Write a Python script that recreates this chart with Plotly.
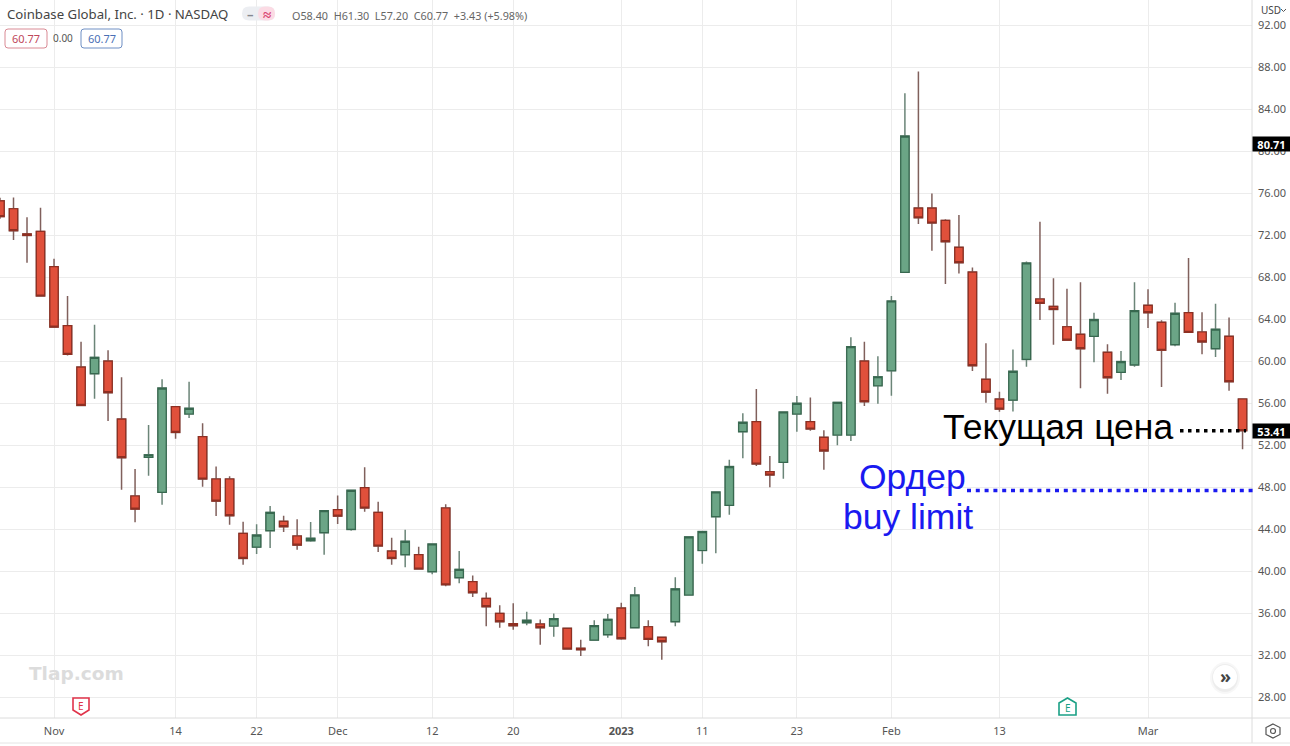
import numpy as np
import plotly.graph_objects as go

# Daily COIN candles, one row per trading session
opens = [75.3, 74.55, 72.15, 72.39, 69.03, 63.41, 59.47, 58.84, 60.04, 54.52, 47.19, 50.87, 47.54, 55.7, 55.0, 52.84,
         48.81, 48.81, 43.63, 42.33, 43.89, 44.78, 43.38, 42.94, 43.7, 45.89, 44.01, 47.98, 45.63, 41.95, 41.6, 41.6,
         39.98, 46.05, 39.41, 39.03, 37.44, 36.01, 35.03, 35.13, 35.0, 34.81, 34.59, 32.68, 33.47, 33.98, 36.52, 34.65,
         34.74, 33.73, 35.22, 37.76, 42.0, 45.22, 46.3, 53.32, 54.27, 49.51, 50.4, 55.0, 54.27, 52.78, 53.0, 53.0,
         60.04, 57.69, 59.12, 68.49, 74.61, 74.61, 73.44, 70.87, 68.52, 58.3, 56.42, 56.33, 60.2, 65.95, 65.25, 63.31,
         62.59, 62.4, 60.87, 58.97, 59.67, 65.35, 63.73, 61.6, 64.65, 62.81, 61.22, 62.4, 56.43]
highs = [75.6, 75.63, 73.73, 74.65, 69.79, 66.24, 61.89, 63.5, 61.06, 58.49, 49.76, 53.95, 58.3, 55.76, 58.08, 54.11,
         50.01, 49.06, 44.74, 44.49, 46.24, 45.32, 44.97, 44.71, 45.85, 47.25, 47.76, 49.92, 46.65, 43.22, 43.98, 42.36,
         42.68, 46.4, 41.95, 39.63, 38.01, 36.78, 36.97, 36.17, 35.44, 36.01, 34.59, 33.5, 35.35, 35.95, 37.03, 38.52,
         35.35, 33.82, 39.45, 43.29, 43.86, 47.64, 50.65, 55.07, 57.38, 51.0, 55.19, 56.72, 56.56, 53.45, 56.1, 62.3,
         61.88, 60.49, 66.23, 85.54, 87.63, 76.01, 73.54, 73.95, 68.96, 61.73, 57.12, 61.15, 69.53, 73.31, 67.92, 66.93,
         67.54, 64.65, 61.64, 61.0, 67.54, 66.87, 63.92, 65.6, 69.86, 64.68, 65.51, 64.18, 56.43]
lows = [73.6, 71.57, 69.41, 66.2, 63.25, 60.58, 55.82, 56.46, 54.33, 47.79, 44.68, 49.12, 46.36, 52.65, 54.62, 48.08,
        45.28, 44.46, 40.65, 41.67, 42.24, 43.76, 42.08, 42.84, 41.6, 44.52, 43.89, 45.7, 41.86, 40.65, 40.4, 40.24,
        39.73, 38.59, 38.87, 37.57, 34.78, 34.65, 34.46, 34.87, 33.03, 33.79, 32.55, 31.95, 33.47, 33.7, 33.5, 34.65,
        32.87, 31.6, 34.78, 37.76, 40.75, 41.73, 45.41, 50.78, 50.05, 48.02, 48.84, 53.32, 53.41, 49.7, 52.02, 52.43,
        55.76, 55.98, 56.74, 68.45, 73.09, 70.55, 67.38, 68.39, 59.09, 56.08, 55.22, 55.25, 59.5, 63.95, 61.6, 62.0,
        57.45, 59.92, 56.94, 58.24, 59.51, 63.19, 57.57, 61.45, 62.72, 60.68, 60.43, 57.22, 51.64]
closes = [73.8, 72.46, 72.0, 66.24, 63.28, 60.68, 55.82, 60.39, 57.03, 50.84, 45.95, 51.12, 57.47, 53.25, 55.54, 48.81,
          46.71, 45.32, 41.25, 43.47, 45.63, 44.27, 42.52, 43.16, 45.79, 45.28, 47.73, 46.05, 42.43, 41.25, 42.87, 40.24,
          42.62, 38.74, 40.2, 37.98, 36.65, 35.22, 34.84, 35.35, 34.65, 35.51, 32.62, 32.55, 34.84, 35.44, 33.6, 37.76,
          33.54, 33.32, 38.34, 43.29, 43.8, 47.57, 49.99, 54.21, 50.24, 49.19, 55.19, 56.02, 53.57, 51.48, 56.1, 61.41,
          56.17, 58.55, 65.76, 81.47, 73.69, 73.19, 71.41, 69.41, 59.6, 57.09, 55.47, 59.06, 69.38, 65.54, 64.96, 62.03,
          61.22, 63.99, 58.46, 59.99, 64.84, 64.65, 61.07, 64.59, 62.78, 61.86, 63.07, 58.08, 53.41]

sessions = list(range(len(closes)))

# Time axis labels and the sessions they sit on
tick_sessions = [4, 13, 19, 25, 32, 38, 46, 52, 59, 66, 74, 85]
tick_labels = ["Nov", "14", "22", "Dec", "12", "20", "<b>2023</b>", "11", "23", "Feb", "13", "Mar"]

# Price axis labels
price_ticks = [28, 32, 36, 40, 44, 48, 52, 56, 60, 64, 68, 72, 76, 80, 84, 88, 92]

current_price = 53.41
buy_limit_price = 47.71
last_visible_high = 80.71

W, H = 1290, 746
PLOT_W, PLOT_H = 1252, 718
RED, RED_EDGE, RED_WICK = "#e0503b", "#8e2f22", "#80605c"
GREEN, GREEN_EDGE, GREEN_WICK = "#6ba586", "#37684f", "#6b8578"
TEXT = "#555555"
FONT = "Noto Sans"


def fx(px):
    return px / PLOT_W


def fy(py):
    return 1 - py / PLOT_H


def round_box(x0, y0, x1, y1, r):
    a, b, c, d = fx(x0), fx(x1), fy(y0), fy(y1)
    rx, ry = r / PLOT_W, r / PLOT_H
    return (f"M {a + rx} {c} L {b - rx} {c} Q {b} {c} {b} {c - ry} L {b} {d + ry} Q {b} {d} {b - rx} {d} "
            f"L {a + rx} {d} Q {a} {d} {a} {d + ry} L {a} {c - ry} Q {a} {c} {a + rx} {c} Z")


def poly(points, closed=True):
    return "M " + " L ".join(f"{fx(x)} {fy(y)}" for x, y in points) + (" Z" if closed else "")


def paper_shape(path, line=None, fill="rgba(0,0,0,0)", width=1):
    return dict(type="path", xref="paper", yref="paper", path=path, fillcolor=fill,
                line=dict(color=line or "rgba(0,0,0,0)", width=width), layer="above")


def label(px, py, text, size=11, color=TEXT, anchor="left", family=FONT, **kw):
    return dict(xref="paper", yref="paper", x=fx(px), y=fy(py), text=text, showarrow=False, xanchor=anchor,
                yanchor="middle", align=anchor, font=dict(size=size, color=color, family=family), borderpad=0, **kw)


fig = go.Figure()

# Wicks, in their lighter tone
fig.add_trace(go.Candlestick(
    x=sessions, open=opens, high=highs, low=lows, close=closes,
    increasing=dict(line=dict(color=GREEN_WICK, width=1.5), fillcolor=GREEN),
    decreasing=dict(line=dict(color=RED_WICK, width=1.5), fillcolor=RED),
    showlegend=False, hoverinfo="skip"))

# Bodies with their darker outline, drawn over the wicks
body_top = np.maximum(opens, closes).tolist()
body_bottom = np.minimum(opens, closes).tolist()
fig.add_trace(go.Candlestick(
    x=sessions, open=opens, high=body_top, low=body_bottom, close=closes,
    increasing=dict(line=dict(color=GREEN_EDGE, width=1.2), fillcolor=GREEN),
    decreasing=dict(line=dict(color=RED_EDGE, width=1.2), fillcolor=RED),
    showlegend=False, hoverinfo="skip"))

shapes = [
    # Frame of the price and time scales
    dict(type="line", xref="paper", yref="paper", x0=1, x1=1, y0=fy(0), y1=fy(743),
         line=dict(color="#dcdcdc", width=1)),
    dict(type="line", xref="paper", yref="paper", x0=0, x1=fx(W), y0=0, y1=0, line=dict(color="#dcdcdc", width=1)),
    dict(type="line", xref="paper", yref="paper", x0=0, x1=fx(W), y0=fy(743), y1=fy(743),
         line=dict(color="#e4e4e4", width=1)),
    # Hand-drawn price markers
    dict(type="line", xref="paper", yref="y", x0=fx(1180), x1=fx(1246), y0=current_price, y1=current_price,
         line=dict(color="#000000", width=3.5, dash="3.5px,4.5px"), layer="above"),
    dict(type="line", xref="paper", yref="y", x0=fx(967), x1=fx(1254), y0=buy_limit_price, y1=buy_limit_price,
         line=dict(color="#1a1af0", width=3.5, dash="4px,4.8px"), layer="above"),
    # Legend chips
    paper_shape(round_box(5, 29, 47, 48, 3), line="#d98a94", fill="#ffffff"),
    paper_shape(round_box(81, 29, 122, 48, 3), line="#6f8fc4", fill="#ffffff"),
    paper_shape(round_box(242, 6.5, 275, 20.5, 7), fill="#eceef2"),
    paper_shape(round_box(258, 6.5, 275, 20.5, 7), fill="#fbdbe4"),
    # Earnings flags
    paper_shape(poly([(73, 698), (89, 698), (89, 710), (81, 715), (73, 710)]), line="#e0334a", fill="#ffffff", width=1.6),
    paper_shape(poly([(1059, 703), (1067.5, 698), (1076, 703), (1076, 715), (1059, 715)]), line="#1aa085",
                fill="#ffffff", width=1.6),
    # Scroll-to-latest button with a soft shadow
    dict(type="circle", xref="paper", yref="paper", x0=fx(1210), x1=fx(1240), y0=fy(694), y1=fy(662),
         fillcolor="rgba(0,0,0,0.03)", line=dict(width=0), layer="above"),
    dict(type="circle", xref="paper", yref="paper", x0=fx(1212), x1=fx(1238), y0=fy(692), y1=fy(664),
         fillcolor="rgba(0,0,0,0.04)", line=dict(width=0), layer="above"),
    dict(type="circle", xref="paper", yref="paper", x0=fx(1213), x1=fx(1237), y0=fy(689), y1=fy(665),
         fillcolor="#ffffff", line=dict(width=0), layer="above"),
    # Settings gear
    paper_shape(poly([(1273, 724), (1280, 727.5), (1280, 734.5), (1273, 738), (1266, 734.5), (1266, 727.5)]),
                line="#555555", width=1.2),
    dict(type="circle", xref="paper", yref="paper", x0=fx(1270.5), x1=fx(1275.5), y0=fy(733.5), y1=fy(728.5),
         line=dict(color="#555555", width=1.2), layer="above"),
    # Currency menu chevron
    paper_shape(poly([(1281, 9), (1283.5, 11.5), (1286, 9)], closed=False), line="#555555", width=1),
]

annotations = [
    label(6, 14, "Coinbase Global, Inc. · 1D · NASDAQ", size=13.2, color="#444444"),
    label(291, 15, "O58.40  H61.30  L57.20  C60.77  +3.43 (+5.98%)", size=10.8, color="#666666"),
    label(26, 38.5, "60.77", size=11, color="#c0485a", anchor="center"),
    label(63, 38, "0.00", size=10, color="#555555", anchor="center"),
    label(101.5, 38.5, "60.77", size=11, color="#4a6fb5", anchor="center"),
    label(250, 13.5, "<b>–</b>", size=13, color="#85888f", anchor="center"),
    label(266.5, 13.5, "<b>≈</b>", size=15, color="#d8406e", anchor="center"),
    label(1260, 10, "USD", size=10, color="#444444"),
    label(28, 673, "<b>Tlap.com</b>", size=18.5, color="#dcdcdc", family="DejaVu Sans"),
    label(81, 706, "E", size=10, color="#e0334a", anchor="center"),
    label(1067.5, 708, "E", size=10, color="#1aa085", anchor="center"),
    label(1225, 676, "<b>»</b>", size=18, color="#444444", anchor="center"),
    label(942, 427, "Текущая цена", size=35.5, color="#000000", family="Liberation Sans"),
    label(858, 477, "Ордер", size=35.5, color="#1a1af0", family="Liberation Sans"),
    label(842, 517, "buy limit", size=35.5, color="#1a1af0", family="Liberation Sans"),
]

# Value badges on the price scale
for price in (last_visible_high, current_price):
    annotations.append(dict(
        xref="paper", yref="y", x=fx(1252), y=price, xanchor="left", yanchor="middle", showarrow=False,
        text=f"<b>{price:.2f}</b>", font=dict(size=11, color="#ffffff", family=FONT),
        bgcolor="#000000", width=37, height=14, borderpad=0, align="center"))

fig.update_layout(
    width=W, height=H, autosize=False,
    margin=dict(l=0, r=W - PLOT_W, t=0, b=H - PLOT_H),
    paper_bgcolor="#ffffff", plot_bgcolor="#ffffff",
    boxgap=0.3, boxgroupgap=0.12, showlegend=False, shapes=shapes, annotations=annotations,
    xaxis=dict(range=[0, PLOT_W / 13.506], rangeslider=dict(visible=False), showline=False, zeroline=False,
               tickmode="array", tickvals=tick_sessions, ticktext=tick_labels, ticks="", ticklabelstandoff=5,
               showgrid=True, gridcolor="#ececec", gridwidth=1, tickfont=dict(size=11, color=TEXT, family=FONT)),
    yaxis=dict(range=[88 - (PLOT_H - 67.5) / 10.5, 88 + 67.5 / 10.5], side="right", showline=False, zeroline=False,
               tickmode="array", tickvals=price_ticks, tickformat=".2f", ticks="", ticklabelstandoff=5,
               showgrid=True, gridcolor="#ececec", gridwidth=1, tickfont=dict(size=11, color=TEXT, family=FONT)),
)

fig.write_html("out.html")
